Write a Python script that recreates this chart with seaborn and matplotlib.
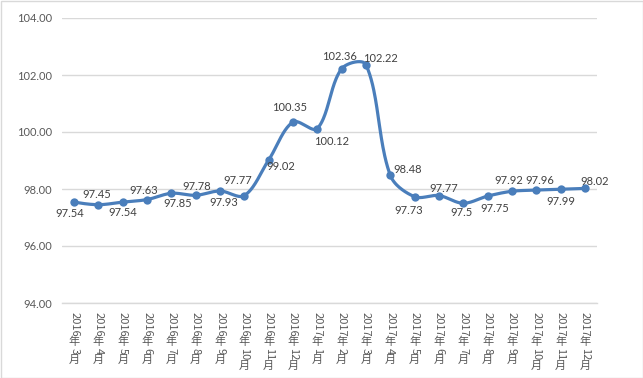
import re
import matplotlib
matplotlib.use("Agg")
import matplotlib.pyplot as plt
import seaborn as sns
import numpy as np
import pandas as pd

months = ["2016年3月", "2016年4月", "2016年5月", "2016年6月", "2016年7月", "2016年8月",
          "2016年9月", "2016年10月", "2016年11月", "2016年12月", "2017年1月", "2017年2月",
          "2017年3月", "2017年4月", "2017年5月", "2017年6月", "2017年7月", "2017年8月",
          "2017年9月", "2017年10月", "2017年11月", "2017年12月"]
# marker heights as drawn in the picture
values = [97.54, 97.45, 97.54, 97.63, 97.85, 97.78, 97.93, 97.77, 99.02, 100.35, 100.12,
          102.22, 102.36, 98.48, 97.73, 97.77, 97.50, 97.75, 97.92, 97.96, 97.99, 98.02]
# data label texts as printed in the picture
point_labels = ["97.54", "97.45", "97.54", "97.63", "97.85", "97.78", "97.93", "97.77",
                "99.02", "100.35", "100.12", "102.36", "102.22", "98.48", "97.73", "97.77",
                "97.5", "97.75", "97.92", "97.96", "97.99", "98.02"]
y_ticks = [94, 96, 98, 100, 102, 104]

# label placement offsets in pixels (dx, dy up)
label_offsets = [(-4, -11), (-2, 10), (0, -10), (-3, 9), (6, -10), (1, 9), (4, -12),
                 (-7, 15), (12, -7), (-3, 15), (14, -13), (-2, 12), (14, 6), (17, 6),
                 (-6, -14), (5, 7), (-2, -9), (7, -12), (-3, 11), (4, 10), (0, -12), (10, 7)]

BLUE = "#4a7ebb"
GRID = "#d9d9d9"

sns.set_style("white")
plt.rcParams['font.family'] = ['Lato', 'DejaVu Sans']

W, H = 643, 378
AX_L, AX_T, AX_W, AX_H = 62, 18, 535, 285
fig = plt.figure(figsize=(W / 100, H / 100), dpi=100)
ax = fig.add_axes([AX_L / W, (H - AX_T - AX_H) / H, AX_W / W, AX_H / H])

df = pd.DataFrame({"x": np.arange(len(months)), "y": values, "label": point_labels})

ymin, ymax = y_ticks[0], y_ticks[-1]
sx = AX_W / len(months)          # pixels per category
sy = AX_H / (ymax - ymin)        # pixels per unit


def smooth_curve(xs, ys, n=40, k=1 / 3):
    """Excel-like smoothing: cubic Bezier with tangent arms scaled by
    neighbouring segment lengths (computed in screen space)."""
    P = np.column_stack([xs * sx, ys * sy])
    m = len(P)
    d = np.linalg.norm(np.diff(P, axis=0), axis=1)
    cin = np.zeros_like(P)
    cout = np.zeros_like(P)
    for i in range(m):
        if i == 0 or i == m - 1:
            cin[i] = cout[i] = P[i]
            continue
        T = P[i + 1] - P[i - 1]
        dp, dn = d[i - 1], d[i]
        cin[i] = P[i] - T * dp / (dp + dn) * k
        cout[i] = P[i] + T * dn / (dp + dn) * k
    cout[0] = P[0] + (cin[1] - P[0]) * 0.5
    cin[-1] = P[-1] + (cout[-2] - P[-1]) * 0.5
    t = np.linspace(0, 1, n)[:, None]
    pts = []
    for i in range(m - 1):
        a, b, c, e = P[i], cout[i], cin[i + 1], P[i + 1]
        B = (1 - t) ** 3 * a + 3 * (1 - t) ** 2 * t * b + 3 * (1 - t) * t ** 2 * c + t ** 3 * e
        pts.append(B)
    pts = np.vstack(pts)
    return pts[:, 0] / sx, pts[:, 1] / sy


cx, cy = smooth_curve(df["x"].values.astype(float), df["y"].values.astype(float))
ax.plot(cx, cy, color=BLUE, lw=2.3, solid_capstyle="round", zorder=3)
sns.scatterplot(data=df, x="x", y="y", ax=ax, color=BLUE, s=36, linewidth=0,
                zorder=4, legend=False)

for (xi, yi, lab), (dx, dy) in zip(zip(df["x"], df["y"], df["label"]), label_offsets):
    ax.annotate(lab, xy=(xi, yi), xytext=(dx, dy), textcoords="offset pixels",
                ha="center", va="center", fontsize=8, color="#404040", zorder=5)

ax.set_xlim(-0.5, len(months) - 0.5)
ax.set_ylim(ymin, ymax)
ax.set_yticks(y_ticks)
ax.set_yticklabels([f"{v:.2f}" for v in y_ticks])
ax.tick_params(axis="y", length=0, pad=7, labelsize=8, labelcolor="#595959")
ax.set_xticks(np.arange(len(months)))
ax.set_xticklabels([])
ax.set_xticks(np.arange(len(months) + 1) - 0.5, minor=True)
ax.tick_params(axis="x", which="major", length=0)
ax.tick_params(axis="x", which="minor", length=5, color=GRID, width=1)
ax.set_xlabel("")
ax.set_ylabel("")
ax.yaxis.grid(True, color=GRID, lw=1)
ax.xaxis.grid(False)
for s in ["left", "top", "right"]:
    ax.spines[s].set_visible(False)
ax.spines["bottom"].set_color(GRID)
ax.spines["bottom"].set_linewidth(1)
ax.set_axisbelow(True)

fig.add_artist(plt.Rectangle((0.5 / W, 0.5 / H), 1 - 1 / W, 1 - 1 / H,
                             transform=fig.transFigure, fill=False, ec=GRID, lw=1))

# vertical category labels: digits rotated, CJK characters upright
fig.canvas.draw()
renderer = fig.canvas.get_renderer()
fs = 8
em = fs * 100 / 72
cjk = ['Noto Sans CJK SC', 'DejaVu Sans']
for i, m in enumerate(months):
    runs = re.findall(r"\d+|\D", m)
    cur = -9.0
    for run in runs:
        isd = run.isdigit()
        t = ax.annotate(run, xy=(i, 0), xycoords=("data", "axes fraction"), xytext=(0, 0),
                        textcoords="offset pixels", rotation=-90 if isd else 0,
                        ha="center", va="center", fontsize=fs, color="#595959",
                        family=cjk, annotation_clip=False)
        adv = t.get_window_extent(renderer).height if isd else em
        t.set_position((0, cur - adv / 2))
        cur -= adv

fig.savefig("out.png", dpi=100)
